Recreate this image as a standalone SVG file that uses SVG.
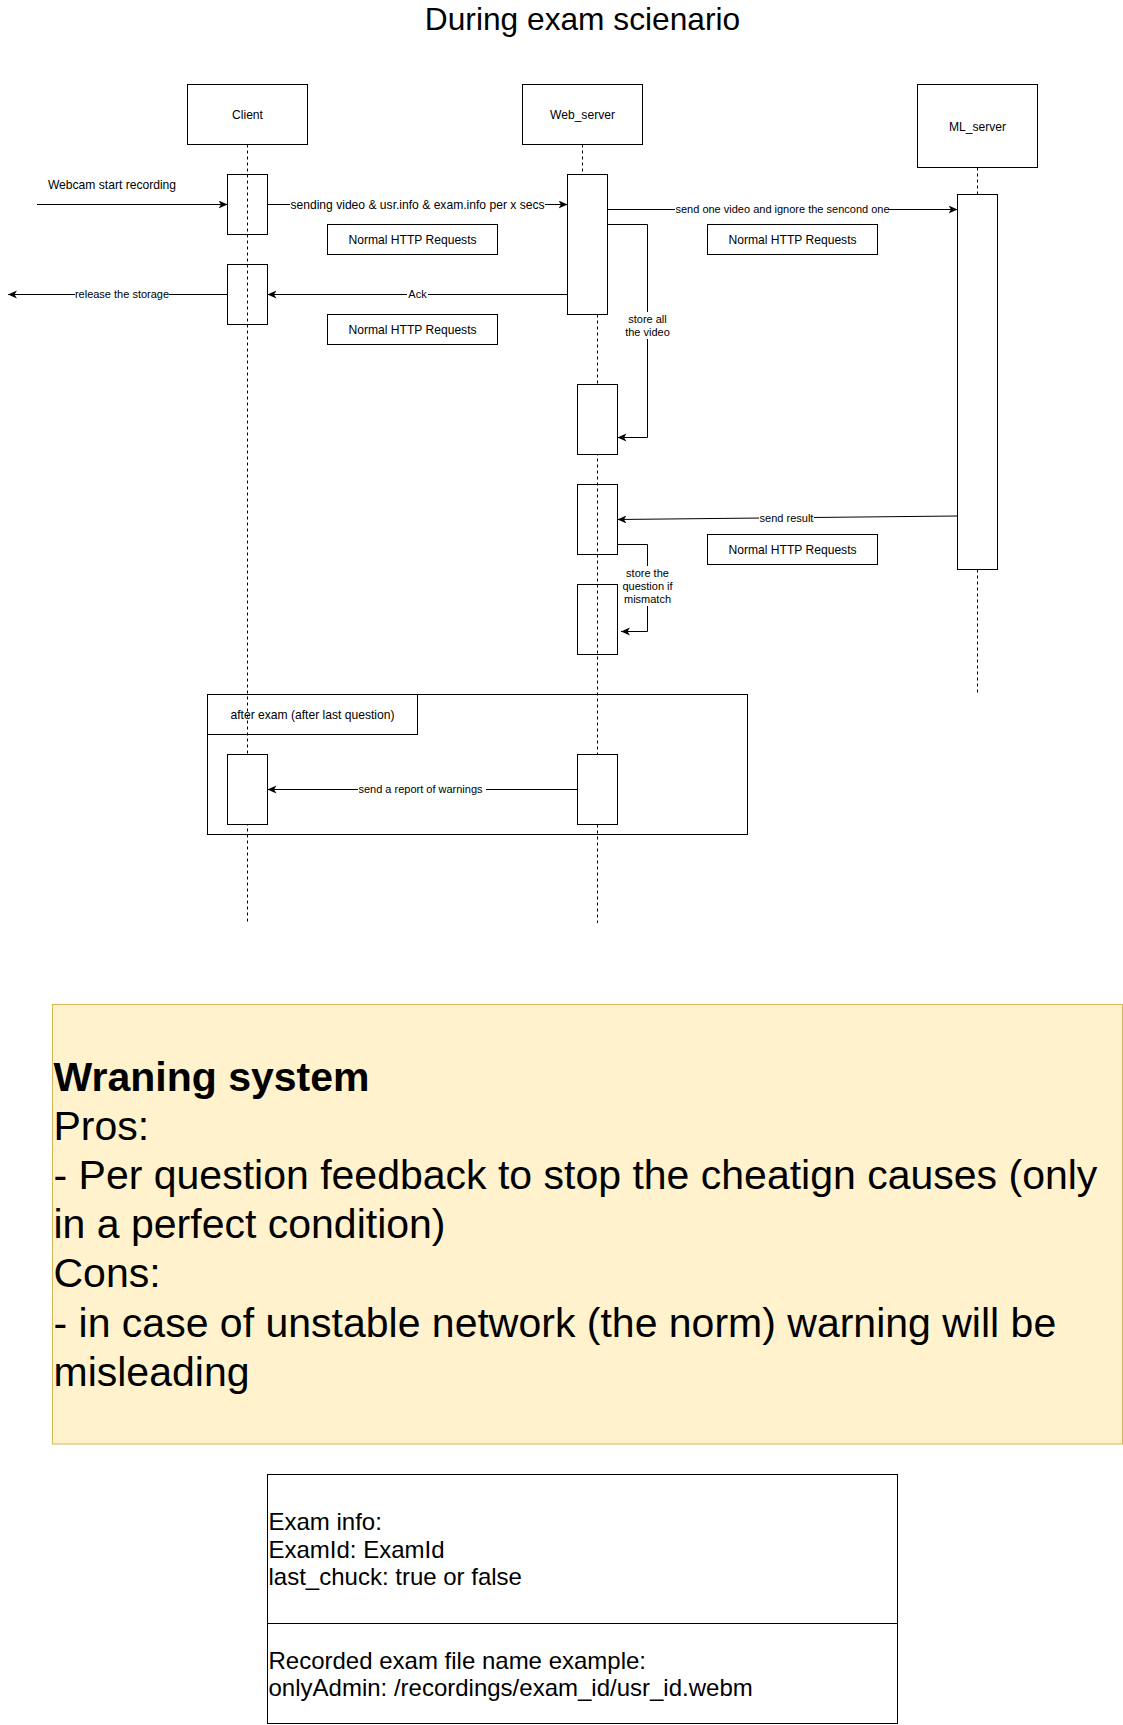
<svg xmlns="http://www.w3.org/2000/svg" width="1123" height="1725" viewBox="0 0 1123 1725">
<style>
text{font-family:"Liberation Sans",Arial,sans-serif;fill:#000}
.box{fill:#fff;stroke:#000;stroke-width:1}
.open{fill:none;stroke:#000;stroke-width:1}
.life{fill:none;stroke:#000;stroke-width:1;stroke-dasharray:3 3}
.msg{fill:none;stroke:#000;stroke-width:1;marker-end:url(#arr)}
.lbg{fill:#fff}
.t12{font-size:12.1px}
.t11{font-size:11px}
.mid{text-anchor:middle}
.tb{font-size:24px}
</style>
<defs>
<marker id="arr" markerUnits="userSpaceOnUse" markerWidth="10" markerHeight="9" refX="9" refY="4" orient="auto">
<path d="M0,0 L9,4 L0,8 L2.5,4 Z" fill="#000"/>
</marker>
</defs>
<rect width="1123" height="1725" fill="#fff"/>
<text id="title" x="582.5" y="30" class="mid" style="font-size:31.7px">During exam scienario</text>

<g id="client-head"><rect class="box" x="187.5" y="84.5" width="120" height="60"/><text class="t12 mid" x="247.5" y="118.5">Client</text></g>
<g id="web-head"><rect class="box" x="522.5" y="84.5" width="120" height="60"/><text class="t12 mid" x="582.5" y="118.5">Web_server</text></g>
<g id="ml-head"><rect class="box" x="917.5" y="84.5" width="120" height="83"/><text class="t12 mid" x="977.5" y="130.5">ML_server</text></g>

<g id="client-act1"><rect class="open" x="227.5" y="174.5" width="40" height="60"/></g>
<g id="client-act2"><rect class="open" x="227.5" y="264.5" width="40" height="60"/></g>
<g id="web-act3"><rect class="open" x="577.5" y="484.5" width="40" height="70"/></g>
<g id="web-act4"><rect class="open" x="577.5" y="584.5" width="40" height="70"/></g>

<g id="lifelines">
<path class="life" d="M247.5,144.5 V923"/>
<path class="life" d="M582.5,144.5 V174.5"/>
<path class="life" d="M597.5,314.5 V923"/>
<path class="life" d="M977.5,167.5 V194.5"/>
<path class="life" d="M977.5,569.5 V694"/>
</g>

<g id="web-act1"><rect class="box" x="567.5" y="174.5" width="40" height="140"/></g>
<g id="web-act2"><rect class="box" x="577.5" y="384.5" width="40" height="70"/></g>
<g id="ml-act"><rect class="box" x="957.5" y="194.5" width="40" height="375"/></g>
<g id="client-act3"><rect class="box" x="227.5" y="754.5" width="40" height="70"/></g>
<g id="web-act5"><rect class="box" x="577.5" y="754.5" width="40" height="70"/></g>

<g id="frame">
<rect class="open" x="207.5" y="694.5" width="540" height="140"/>
<rect class="open" x="207.5" y="694.5" width="210" height="40"/>
<text class="t12 mid" x="312.5" y="718.5">after exam (after last question)</text>
</g>

<g id="http1"><rect class="box" x="327.5" y="224.5" width="170" height="30"/><text class="t12 mid" x="412.5" y="243.8">Normal HTTP Requests</text></g>
<g id="http2"><rect class="box" x="327.5" y="314.5" width="170" height="30"/><text class="t12 mid" x="412.5" y="333.8">Normal HTTP Requests</text></g>
<g id="http3"><rect class="box" x="707.5" y="224.5" width="170" height="30"/><text class="t12 mid" x="792.5" y="243.8">Normal HTTP Requests</text></g>
<g id="http4"><rect class="box" x="707.5" y="534.5" width="170" height="30"/><text class="t12 mid" x="792.5" y="553.8">Normal HTTP Requests</text></g>

<g id="connectors">
<path class="msg" d="M37,204.5 H227.5"/>
<text class="t12 mid" x="112" y="189.3">Webcam start recording</text>

<path class="msg" d="M267.5,204.5 H567.5"/>
<rect class="lbg" x="290" y="197" width="255" height="15"/>
<text class="t12 mid" x="417.5" y="208.8">sending video &amp; usr.info &amp; exam.info per x secs</text>

<path class="msg" d="M607.5,209.5 H957.5"/>
<rect class="lbg" x="675" y="203" width="214" height="13"/>
<text class="t11 mid" x="782.5" y="213.4">send one video and ignore the sencond one</text>

<path class="msg" d="M607.5,224.5 H647.5 V437.5 H617.5"/>
<rect class="lbg" x="624" y="312" width="47" height="27"/>
<text class="t11 mid" x="647.5" y="323.2">store all</text>
<text class="t11 mid" x="647.5" y="336.2">the video</text>

<path class="msg" d="M567.5,294.5 H267.5"/>
<rect class="lbg" x="407" y="288" width="21" height="13"/>
<text class="t11 mid" x="417.5" y="298.4">Ack</text>

<path class="msg" d="M227.5,294.5 H8"/>
<rect class="lbg" x="75" y="288" width="94" height="13"/>
<text class="t11 mid" x="122" y="298.4">release the storage</text>

<path class="msg" d="M957.5,516 L617.5,519.5"/>
<rect class="lbg" x="759" y="511" width="55" height="13"/>
<text class="t11 mid" x="786.5" y="521.6">send result</text>

<path class="msg" d="M617.5,544.5 H647.5 V631.5 H621"/>
<rect class="lbg" x="621" y="566" width="53" height="40"/>
<text class="t11 mid" x="647.5" y="577">store the</text>
<text class="t11 mid" x="647.5" y="590">question if</text>
<text class="t11 mid" x="647.5" y="603">mismatch</text>

<path class="msg" d="M577.5,789.5 H267.5"/>
<rect class="lbg" x="358" y="783" width="128" height="13"/>
<text class="t11 mid" x="420.5" y="793.4">send a report of warnings</text>
</g>

<g id="note">
<rect x="52.5" y="1004.5" width="1070" height="439.5" fill="#fff2cc" stroke="#d6b656" stroke-width="1"/>
<text x="53.5" y="1090.6" style="font-size:41px;font-weight:bold">Wraning system</text>
<text x="53.5" y="1139.8" style="font-size:41px">Pros:</text>
<text x="53.5" y="1189" style="font-size:41px">- Per question feedback to stop the cheatign causes (only</text>
<text x="53.5" y="1238.2" style="font-size:41px">in a perfect condition)</text>
<text x="53.5" y="1287.4" style="font-size:41px">Cons:</text>
<text x="53.5" y="1336.6" style="font-size:41px">- in case of unstable network (the norm) warning will be</text>
<text x="53.5" y="1385.8" style="font-size:41px">misleading</text>
</g>

<g id="info-table">
<rect class="box" x="267.5" y="1474.5" width="630" height="249"/>
<path class="open" d="M267.5,1623.5 H897.5"/>
<text class="tb" x="268.5" y="1530">Exam info:</text>
<text class="tb" x="268.5" y="1557.6">ExamId: ExamId</text>
<text class="tb" x="268.5" y="1585.2">last_chuck: true or false</text>
<text class="tb" x="268.5" y="1668.6">Recorded exam file name example:</text>
<text class="tb" x="268.5" y="1696.2">onlyAdmin: /recordings/exam_id/usr_id.webm</text>
</g>
</svg>
